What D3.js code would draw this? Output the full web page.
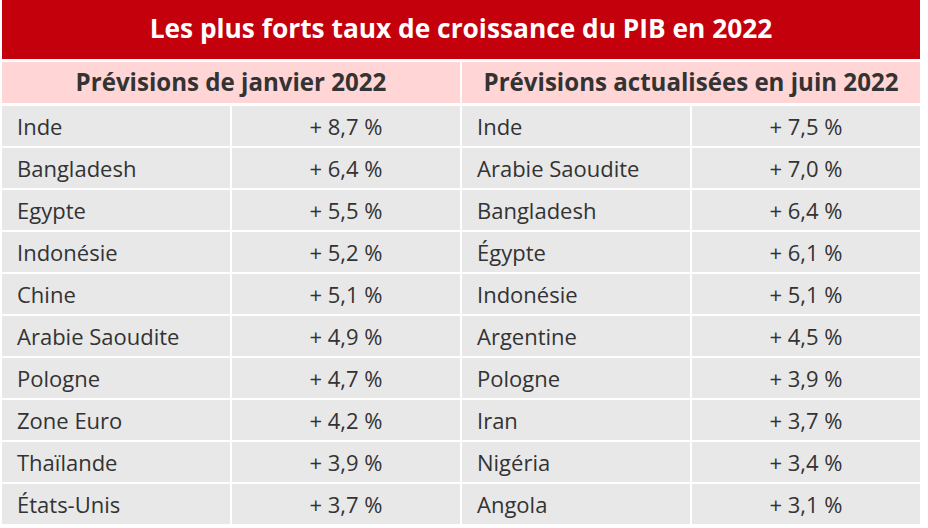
<!DOCTYPE html>
<html><head><meta charset="utf-8">
<script src="https://cdn.jsdelivr.net/npm/d3@7"></script>
<style>html,body{margin:0;padding:0;background:#fff;}svg{display:block;font-family:"Open Sans",sans-serif;}</style>
</head><body>
<svg id="chart" width="928" height="528"></svg>
<script>
const title = "Les plus forts taux de croissance du PIB en 2022";
const headers = ["Prévisions de janvier 2022", "Prévisions actualisées en juin 2022"];
const janCountries = ["Inde","Bangladesh","Egypte","Indonésie","Chine","Arabie Saoudite","Pologne","Zone Euro","Thaïlande","États-Unis"];
const janValues = [8.7, 6.4, 5.5, 5.2, 5.1, 4.9, 4.7, 4.2, 3.9, 3.7];
const junCountries = ["Inde","Arabie Saoudite","Bangladesh","Égypte","Indonésie","Argentine","Pologne","Iran","Nigéria","Angola"];
const junValues = [7.5, 7.0, 6.4, 6.1, 5.1, 4.5, 3.9, 3.7, 3.4, 3.1];

const fr = d3.formatLocale({decimal: ",", thousands: " ", grouping: [3], currency: ["", " €"]});
const fmt = v => "+ " + fr.format(".1f")(v) + " %";

const svg = d3.select("#chart");
const x = d3.scaleBand().domain([0,1,2,3]).range([1, 921]);
const y = d3.scaleBand().domain(d3.range(10)).range([105, 525]);
const cw = x.bandwidth() - 2;

// title
svg.append("rect").attr("x", 2).attr("y", 0).attr("width", 918).attr("height", 59).attr("fill", "#c3000c");
svg.append("text").attr("x", 461).attr("y", 38).attr("text-anchor", "middle")
  .attr("fill", "#fff").attr("font-weight", 700).attr("font-size", 26.3).text(title);

// headers
headers.forEach((h, k) => {
  const x0 = x(k*2) + 1, w = x.bandwidth()*2 - 2;
  svg.append("rect").attr("x", x0).attr("y", 62).attr("width", w).attr("height", 41).attr("fill", "#ffd5d5");
  svg.append("text").attr("x", x0 + w/2).attr("y", 91).attr("text-anchor", "middle")
    .attr("fill", "#333").attr("font-weight", 700).attr("font-size", 24.1).text(h);
});

const sides = [{c: janCountries, v: janValues, col: 0}, {c: junCountries, v: junValues, col: 2}];
sides.forEach(s => {
  const g = svg.append("g");
  const rows = g.selectAll("g").data(d3.range(s.c.length)).join("g");
  rows.append("rect").attr("x", x(s.col) + 1).attr("y", i => y(i) + 1)
    .attr("width", cw).attr("height", y.bandwidth() - 2).attr("fill", "#e8e8e8");
  rows.append("rect").attr("x", x(s.col + 1) + 1).attr("y", i => y(i) + 1)
    .attr("width", cw).attr("height", y.bandwidth() - 2).attr("fill", "#e8e8e8");
  rows.append("text").attr("x", x(s.col) + 16).attr("y", i => y(i) + 30)
    .attr("fill", "#333").attr("font-size", 22).text(i => s.c[i]);
  rows.append("text").attr("x", x(s.col + 1) + x.bandwidth()/2).attr("y", i => y(i) + 30)
    .attr("text-anchor", "middle").attr("fill", "#333").attr("font-size", 22).text(i => fmt(s.v[i]));
});
</script>
</body></html>
